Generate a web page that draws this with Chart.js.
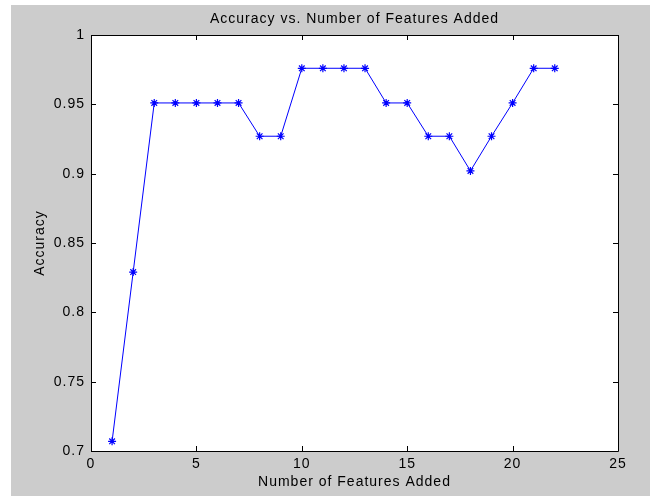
<!DOCTYPE html>
<html>
<head>
<meta charset="utf-8">
<script src="https://cdn.jsdelivr.net/npm/chart.js@4"></script>
<style>
    body { margin: 0; background: #ffffff; }
    #wrap { width: 650px; height: 500px; }
</style>
</head>
<body>
<div id="wrap"><canvas id="plot" width="650" height="500"></canvas></div>
<script>
// Data
const featureCounts = [1, 2, 3, 4, 5, 6, 7, 8, 9, 10, 11, 12, 13, 14, 15, 16, 17, 18, 19, 20, 21, 22];
const accuracy = [0.707, 0.829, 0.951, 0.951, 0.951, 0.951, 0.951, 0.927, 0.927, 0.976, 0.976,
                  0.976, 0.976, 0.951, 0.951, 0.927, 0.927, 0.902, 0.927, 0.951, 0.976, 0.976];
const xTicks = [0, 5, 10, 15, 20, 25];
const yTicks = [0.7, 0.75, 0.8, 0.85, 0.9, 0.95, 1];

const fontFamily = "'Liberation Sans', Arial, sans-serif";
const spacing = "1px";

// Grey figure, white axes, black box with ticks pointing inward
const matlabFrame = {
    id: "matlabFrame",
    beforeUpdate(chart) {
        chart.ctx.letterSpacing = spacing;
    },
    beforeDraw(chart) {
        const ctx = chart.ctx;
        const area = chart.chartArea;
        ctx.letterSpacing = spacing;
        ctx.save();
        ctx.fillStyle = "#ffffff";
        ctx.fillRect(0, 0, chart.width, chart.height);
        ctx.fillStyle = "#cccccc";
        ctx.fillRect(11, 5, chart.width - 11, 491);
        ctx.fillStyle = "#ffffff";
        ctx.fillRect(area.left, area.top, area.right - area.left, area.bottom - area.top);

        // Title
        ctx.fillStyle = "#000000";
        ctx.font = "14px " + fontFamily;
        ctx.textAlign = "center";
        ctx.textBaseline = "middle";
        ctx.fillText("Accuracy vs. Number of Features Added", (area.left + area.right) / 2, 19);
        ctx.restore();
    },
    afterDatasetsDraw(chart) {
        const ctx = chart.ctx;
        const area = chart.chartArea;
        const xs = chart.scales.x;
        const ys = chart.scales.y;
        const len = 5;
        ctx.save();
        ctx.strokeStyle = "#000000";
        ctx.lineWidth = 1;
        ctx.beginPath();
        ctx.rect(Math.round(area.left) + 0.5, Math.round(area.top) + 0.5,
                 Math.round(area.right - area.left), Math.round(area.bottom - area.top));
        xTicks.forEach((v) => {
            const px = Math.round(xs.getPixelForValue(v)) + 0.5;
            ctx.moveTo(px, area.bottom);
            ctx.lineTo(px, area.bottom - len);
            ctx.moveTo(px, area.top);
            ctx.lineTo(px, area.top + len);
        });
        yTicks.forEach((v) => {
            const py = Math.round(ys.getPixelForValue(v)) + 0.5;
            ctx.moveTo(area.left, py);
            ctx.lineTo(area.left + len, py);
            ctx.moveTo(area.right, py);
            ctx.lineTo(area.right - len, py);
        });
        ctx.stroke();
        ctx.restore();
    }
};

const points = featureCounts.map((x, i) => ({ x: x, y: accuracy[i] }));

new Chart(document.getElementById("plot"), {
    type: "line",
    data: {
        datasets: [{
            data: points,
            borderColor: "#0000ff",
            borderWidth: 1,
            backgroundColor: "#0000ff",
            pointStyle: "star",
            pointRadius: 4,
            pointBorderColor: "#0000ff",
            pointBorderWidth: 1.2,
            lineTension: 0,
            clip: false
        }]
    },
    options: {
        responsive: false,
        animation: false,
        layout: {
            padding: { top: 35, right: 32, left: 0, bottom: 0 }
        },
        plugins: {
            legend: { display: false },
            tooltip: { enabled: false },
            title: { display: false }
        },
        scales: {
            x: {
                type: "linear",
                min: 0,
                max: 25,
                afterBuildTicks: (scale) => { scale.ticks = xTicks.map((v) => ({ value: v })); },
                afterFit: (scale) => { scale.height = 49; },
                grid: { display: false, drawTicks: false },
                border: { display: false },
                ticks: {
                    color: "#000000",
                    padding: 5,
                    maxRotation: 0,
                    font: { family: fontFamily, size: 14 }
                },
                title: {
                    display: true,
                    text: "Number of Features Added",
                    color: "#000000",
                    padding: { top: 0, bottom: 9 },
                    font: { family: fontFamily, size: 14 }
                }
            },
            y: {
                type: "linear",
                min: 0.7,
                max: 1,
                afterBuildTicks: (scale) => { scale.ticks = yTicks.map((v) => ({ value: v })); },
                afterFit: (scale) => { scale.width = 91; },
                grid: { display: false, drawTicks: false },
                border: { display: false },
                ticks: {
                    color: "#000000",
                    padding: 6,
                    font: { family: fontFamily, size: 14 },
                    callback: (v) => String(Math.round(v * 100) / 100)
                },
                title: {
                    display: true,
                    text: "Accuracy",
                    color: "#000000",
                    padding: { top: 32, bottom: 0 },
                    font: { family: fontFamily, size: 14 }
                }
            }
        }
    },
    plugins: [matlabFrame]
});
</script>
</body>
</html>
